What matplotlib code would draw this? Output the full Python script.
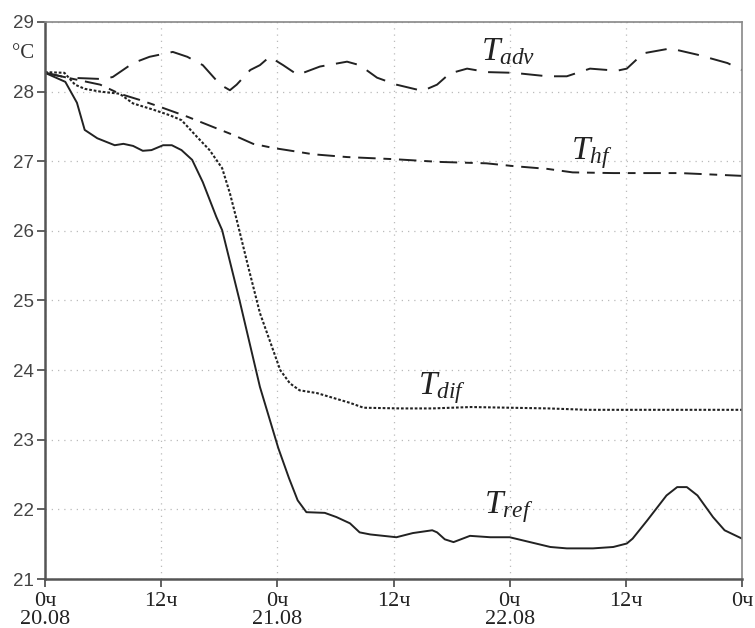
import matplotlib
matplotlib.use("Agg")
import matplotlib.pyplot as plt
import numpy as np

# --- data (hours from 0ч 20.08, temperature in °C) ---
t_ref_h = [0, 2.1, 3.3, 4.1, 5.4, 7.2, 8.1, 9.1, 10.1, 11, 12.2, 13.1, 14.1, 15.2, 16.3, 17.7,
           18.3, 20.1, 22.2, 24.1, 25.2, 26.1, 27, 28.9, 30.1, 31.5, 32.5, 33.6, 36.3, 38, 40,
           40.5, 41.3, 42.2, 43.9, 46, 48, 50.1, 52.2, 53.9, 56.6, 58.7, 60.1, 60.7, 62.2, 64.2,
           65.3, 66.3, 67.4, 69, 70.2, 72]
t_ref = [28.27, 28.14, 27.84, 27.45, 27.33, 27.23, 27.25, 27.22, 27.15, 27.16, 27.23, 27.23,
         27.16, 27.02, 26.7, 26.2, 26.01, 25.0, 23.76, 22.88, 22.45, 22.13, 21.96, 21.95, 21.89,
         21.8, 21.67, 21.64, 21.6, 21.66, 21.7, 21.67, 21.57, 21.53, 21.62, 21.6, 21.6, 21.53,
         21.46, 21.44, 21.44, 21.46, 21.51, 21.58, 21.84, 22.2, 22.32, 22.32, 22.2, 21.89, 21.7,
         21.58]

t_dif_h = [0, 2, 3.1, 4.1, 5.7, 7.7, 9.1, 11.2, 12.9, 14.1, 15.7, 17, 18.3, 19.1, 19.8, 21,
           22.2, 23.2, 24.3, 25.3, 26.3, 28.1, 29.8, 31.5, 32.9, 36.7, 40, 44, 48, 52, 56, 60,
           64, 72]
t_dif = [28.28, 28.27, 28.1, 28.04, 28.0, 27.97, 27.83, 27.74, 27.66, 27.59, 27.35, 27.16,
         26.9, 26.54, 26.16, 25.48, 24.82, 24.43, 24.0, 23.81, 23.71, 23.67, 23.6, 23.53, 23.46,
         23.45, 23.45, 23.47, 23.46, 23.45, 23.43, 23.43, 23.43, 23.43]

t_hf_h = [0, 2.3, 5.7, 7.7, 9.8, 11.9, 14.7, 17.4, 19.4, 21.5, 23.6, 25, 27.7, 31.2, 36, 40.8,
          45.6, 48.4, 51.9, 54.5, 58.7, 65.6, 72]
t_hf = [28.27, 28.2, 28.1, 27.97, 27.88, 27.78, 27.64, 27.49, 27.38, 27.25, 27.19, 27.16, 27.1,
        27.06, 27.03, 26.99, 26.97, 26.93, 26.89, 26.84, 26.83, 26.83, 26.79]

t_adv_h = [0, 2.3, 4.3, 6, 7, 9.1, 10.8, 13.2, 14.7, 16.3, 18.1, 19.1, 19.8, 21.2, 22.2, 23.2,
           24.6, 26.1, 28.4, 31.2, 32.5, 34.3, 36.3, 39, 40.5, 41.8, 43.6, 45.7, 48.4, 51.9,
           53.9, 56.3, 59.1, 60.1, 61.8, 64.6, 67.4, 70.5, 72]
t_adv = [28.27, 28.2, 28.19, 28.18, 28.21, 28.41, 28.5, 28.57, 28.5, 28.38, 28.1, 28.02, 28.1,
         28.31, 28.38, 28.5, 28.38, 28.24, 28.36, 28.43, 28.38, 28.2, 28.1, 28.01, 28.1, 28.26,
         28.33, 28.28, 28.27, 28.22, 28.22, 28.33, 28.3, 28.33, 28.55, 28.62, 28.53, 28.41, 28.31]

x_ticks = [0, 12, 24, 36, 48, 60, 72]
x_tick_labels = ["0ч\n20.08", "12ч", "0ч\n21.08", "12ч", "0ч\n22.08", "12ч", "0ч"]
y_ticks = [21, 22, 23, 24, 25, 26, 27, 28, 29]

plt.rcParams['mathtext.fontset'] = 'custom'
plt.rcParams['mathtext.rm'] = 'Liberation Serif'
plt.rcParams['mathtext.it'] = 'Liberation Serif:italic'

fig = plt.figure(figsize=(7.55, 6.28), dpi=100)
ax = fig.add_axes([0.0596, 0.078, 0.9232, 0.887])

ax.plot(t_adv_h, t_adv, color='#222222', lw=1.4, dashes=(11, 6))
ax.plot(t_hf_h, t_hf, color='#222222', lw=1.4, dashes=(9, 4, 4, 4))
ax.plot(t_dif_h, t_dif, color='#222222', lw=1.5, dashes=(1.3, 0.9))
ax.plot(t_ref_h, t_ref, color='#222222', lw=1.4)

ax.set_xlim(0, 72)
ax.set_ylim(21, 29)
ax.set_xticks(x_ticks)
ax.set_xticklabels(x_tick_labels, family='Liberation Serif', fontsize=16,
                   linespacing=0.95, color='#222222')
ax.set_yticks(y_ticks)
ax.set_yticklabels([str(v) for v in y_ticks], family='Liberation Sans', fontsize=13.5,
                   color='#444444')
ax.tick_params(axis='both', direction='out', length=6, width=1.3, color='#555555')
ax.tick_params(axis='x', pad=3)
ax.tick_params(axis='y', pad=2)

ax.grid(True, color='#bbbbbb', linestyle=(0, (1, 4)), linewidth=0.9)

for side in ['left', 'bottom']:
    ax.spines[side].set_color('#555555')
    ax.spines[side].set_linewidth(1.8)
for side in ['top', 'right']:
    ax.spines[side].set_color('#888888')
    ax.spines[side].set_linewidth(1.2)

# curve labels
lab_kw = dict(fontsize=24, color='#222222', ha='left', va='baseline')
ax.text(45.0, 28.45, r'$T_{adv}$', **lab_kw)
ax.text(54.3, 27.03, r'$T_{hf}$', **lab_kw)
ax.text(38.5, 23.66, r'$T_{dif}$', **lab_kw)
ax.text(45.3, 21.94, r'$T_{ref}$', **lab_kw)

fig.text(12 / 755, 1 - 58 / 628, '°C', family='Liberation Serif', fontsize=15,
         color='#333333', ha='left', va='baseline')

fig.savefig('out.png', dpi=100)
